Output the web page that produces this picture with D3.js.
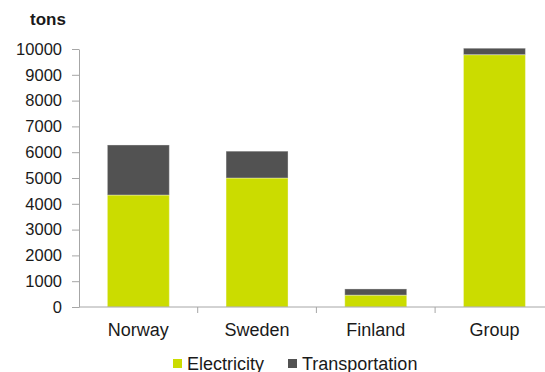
<!DOCTYPE html>
<html>
<head>
<meta charset="utf-8">
<script src="https://cdn.jsdelivr.net/npm/d3@7"></script>
<style>
  html, body { margin: 0; padding: 0; background: #fff; }
  svg { display: block; font-family: "Liberation Sans", Arial, sans-serif; }
</style>
</head>
<body>
<svg id="chart" width="545" height="372"></svg>
<script>
// Emissions per country, split by source (tons)
const categories = ["Norway", "Sweden", "Finland", "Group"];
const electricity = [4340, 5000, 460, 9780];
const transportation = [1940, 1040, 240, 250];
const yTicks = [0, 1000, 2000, 3000, 4000, 5000, 6000, 7000, 8000, 9000, 10000];
const seriesNames = ["Electricity", "Transportation"];
const seriesColors = ["#cbdc00", "#525252"];

const svg = d3.select("#chart");
const textColor = "#1a1a1a";
const axisColor = "#a6a6a6";

const x = d3.scaleBand()
  .domain(categories)
  .range([79, 553.8])
  .paddingInner(0.478)
  .paddingOuter(0.239);

const y = d3.scaleLinear().domain([0, 10000]).range([307, 49]);

// Stack the two series
const rows = categories.map((c, i) => ({ cat: c, Electricity: electricity[i], Transportation: transportation[i] }));
const stacked = d3.stack().keys(seriesNames)(rows);

svg.append("g").selectAll("g")
  .data(stacked)
  .join("g")
  .attr("fill", (d, i) => seriesColors[i])
  .selectAll("rect")
  .data(d => d)
  .join("rect")
  .attr("x", d => x(d.data.cat))
  .attr("width", x.bandwidth())
  .attr("y", d => y(d[1]))
  .attr("height", d => y(d[0]) - y(d[1]))
  .attr("stroke", "rgba(255,255,255,0.35)")
  .attr("stroke-width", 1);

// Y axis
const yAxis = svg.append("g")
  .attr("transform", "translate(79,0)")
  .call(d3.axisLeft(y).tickValues(yTicks).tickFormat(d3.format("d")).tickSize(7).tickSizeOuter(0).tickPadding(10));
yAxis.select(".domain").attr("stroke", axisColor);
yAxis.selectAll(".tick line").attr("stroke", axisColor);
yAxis.selectAll(".tick text")
  .attr("fill", textColor)
  .style("font-size", "16.5px")
  .style("font-family", "'Liberation Sans', Arial, sans-serif");

// X axis baseline and category separators
svg.append("line")
  .attr("x1", 79).attr("x2", 545)
  .attr("y1", y(0)).attr("y2", y(0))
  .attr("stroke", axisColor);

const step = x.step();
svg.append("g").selectAll("line")
  .data(categories.slice(0, -1))
  .join("line")
  .attr("x1", d => x(d) + x.bandwidth() + (step - x.bandwidth()) / 2)
  .attr("x2", d => x(d) + x.bandwidth() + (step - x.bandwidth()) / 2)
  .attr("y1", y(0)).attr("y2", y(0) + 6)
  .attr("stroke", axisColor);

svg.append("g").selectAll("text")
  .data(categories)
  .join("text")
  .attr("x", d => x(d) + x.bandwidth() / 2)
  .attr("y", 336)
  .attr("text-anchor", "middle")
  .attr("fill", textColor)
  .style("font-size", "18px")
  .text(d => d);

// Unit label
svg.append("text")
  .attr("x", 30).attr("y", 25)
  .attr("fill", textColor)
  .style("font-size", "17px")
  .style("font-weight", "bold")
  .text("tons");

// Legend
const legendX = [173, 288];
const legend = svg.append("g").selectAll("g")
  .data(seriesNames)
  .join("g")
  .attr("transform", (d, i) => `translate(${legendX[i]},359)`);
legend.append("rect")
  .attr("width", 9).attr("height", 9)
  .attr("fill", (d, i) => seriesColors[i]);
legend.append("text")
  .attr("x", 14).attr("y", 10.5)
  .attr("fill", textColor)
  .style("font-size", "18px")
  .text(d => d);
</script>
</body>
</html>
